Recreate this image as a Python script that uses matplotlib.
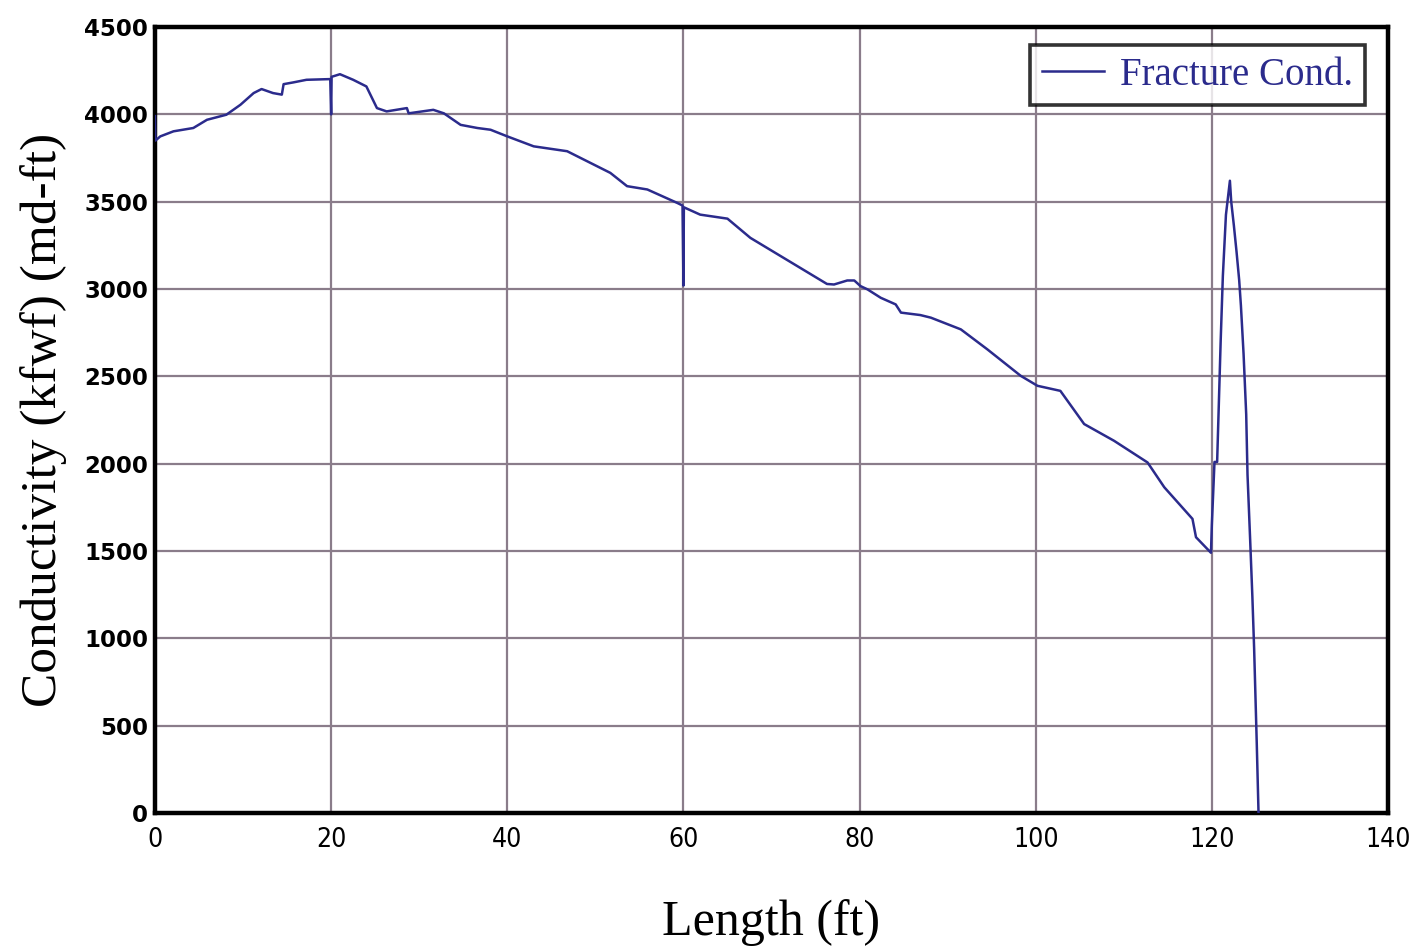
import matplotlib
matplotlib.use("Agg")
import matplotlib.pyplot as plt

# Fracture conductivity profile along the fracture length
length_ft = [0.0, 0.05, 0.6, 2.1, 4.35, 5.9, 8.1, 9.7, 11.2, 12.1, 13.4, 14.4,
             14.6, 15.7, 17.2, 19.9, 20.0, 20.05, 21.0, 22.5, 24.0, 25.2, 26.3,
             28.6, 28.8, 31.6, 32.8, 34.7, 36.6, 38.1, 40.0, 43.0, 46.8, 51.7,
             53.6, 55.9, 59.3, 59.9, 60.0, 60.05, 61.9, 65.0, 67.6, 76.3, 77.1,
             78.6, 79.4, 80.1, 80.9, 82.4, 84.1, 84.7, 86.9, 88.1, 91.5, 94.5,
             98.3, 100.2, 102.8, 105.5, 108.9, 112.7, 114.6, 117.8, 118.2,
             119.9, 120.0, 120.3, 120.6, 120.8, 121.0, 121.25, 121.6, 122.05,
             122.2, 122.5, 122.8, 123.1, 123.3, 123.6, 123.9, 124.05, 124.35,
             124.6, 124.8, 125.1, 125.3]
conductivity = [3990, 3850, 3874, 3903, 3922, 3969, 3998, 4055, 4122, 4145, 4122,
                4113, 4173, 4183, 4198, 4202, 4000, 4215, 4230, 4198, 4160, 4036,
                4017, 4036, 4006, 4026, 4006, 3940, 3922, 3912, 3874, 3817, 3789,
                3665, 3589, 3570, 3493, 3478, 3020, 3468, 3426, 3403, 3293, 3029,
                3026, 3049, 3049, 3017, 2998, 2950, 2912, 2865, 2851, 2836, 2769,
                2655, 2503, 2446, 2417, 2227, 2131, 2007, 1865, 1684, 1579, 1490,
                1650, 2010, 2010, 2355, 2700, 3075, 3425, 3620, 3500, 3364, 3215,
                3053, 2905, 2630, 2283, 1936, 1563, 1240, 943, 397, 0]

x_ticks = [0, 20, 40, 60, 80, 100, 120, 140]
y_ticks = [0, 500, 1000, 1500, 2000, 2500, 3000, 3500, 4000, 4500]
series_label = "Fracture Cond."

line_color = "#2b2b8c"
grid_color = "#8a7c8a"

fig = plt.figure(figsize=(14.13, 9.49), dpi=100)
ax = fig.add_axes([0.1097, 0.1433, 0.8726, 0.8282])

ax.plot(length_ft, conductivity, color=line_color, lw=1.8, label=series_label,
        zorder=3)

ax.set_xlim(0, 140)
ax.set_ylim(0, 4500)
ax.set_xticks(x_ticks)
ax.set_yticks(y_ticks)
ax.grid(True, color=grid_color, lw=1.6, zorder=1)
ax.tick_params(length=0)

for lab in ax.get_xticklabels():
    lab.set_fontfamily("DejaVu Sans")
    lab.set_fontstretch("condensed")
    lab.set_fontsize(19)
for lab in ax.get_yticklabels():
    lab.set_fontfamily("DejaVu Sans")
    lab.set_fontweight("bold")
    lab.set_fontsize(16.5)
ax.tick_params(axis="x", pad=10)
ax.tick_params(axis="y", pad=5)

for sp in ax.spines.values():
    sp.set_linewidth(3.2)
    sp.set_color("black")

ax.set_xlabel("Length (ft)", family="Liberation Serif", fontsize=36, labelpad=33)
ax.set_ylabel("Conductivity (kfwf) (md-ft)", family="Liberation Serif",
              fontsize=37, labelpad=12)

leg = ax.legend(loc="upper right", bbox_to_anchor=(0.981, 0.977),
                borderaxespad=0.0,
                prop={"family": "Liberation Serif", "size": 28},
                frameon=True, fancybox=False, handlelength=1.6,
                borderpad=0.3, handletextpad=0.4)
leg.get_frame().set_edgecolor("black")
leg.get_frame().set_linewidth(2.6)
for t in leg.get_texts():
    t.set_color(line_color)

fig.savefig("out.png", dpi=100)
